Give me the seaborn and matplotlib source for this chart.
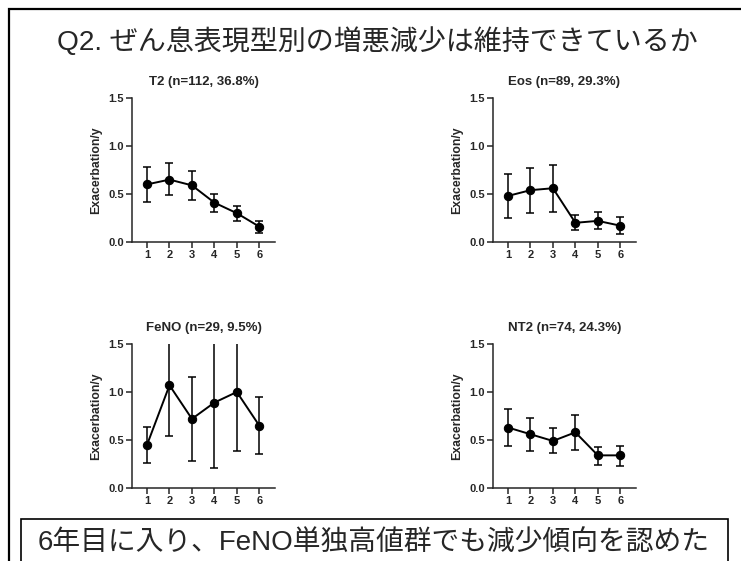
import seaborn as sns
import matplotlib.pyplot as plt
from matplotlib.patches import Rectangle
import pandas as pd

# --------------------
# Data
# --------------------
years = [1, 2, 3, 4, 5, 6]

titles = ["T2 (n=112, 36.8%)", "Eos (n=89, 29.3%)",
          "FeNO (n=29, 9.5%)", "NT2 (n=74, 24.3%)"]

t2_mean = [0.60, 0.65, 0.59, 0.41, 0.30, 0.16]
t2_low = [0.42, 0.49, 0.44, 0.31, 0.22, 0.09]
t2_high = [0.78, 0.82, 0.74, 0.50, 0.37, 0.22]

eos_mean = [0.48, 0.54, 0.56, 0.20, 0.22, 0.17]
eos_low = [0.25, 0.30, 0.31, 0.12, 0.14, 0.08]
eos_high = [0.71, 0.77, 0.80, 0.28, 0.31, 0.26]

feno_mean = [0.45, 1.07, 0.72, 0.89, 1.00, 0.65]
feno_low = [0.26, 0.54, 0.28, 0.21, 0.39, 0.35]
feno_high = [0.64, 1.60, 1.16, 1.57, 1.61, 0.95]

nt2_mean = [0.63, 0.56, 0.49, 0.58, 0.34, 0.34]
nt2_low = [0.44, 0.39, 0.36, 0.40, 0.24, 0.23]
nt2_high = [0.82, 0.73, 0.62, 0.76, 0.43, 0.44]

groups = [(t2_mean, t2_low, t2_high), (eos_mean, eos_low, eos_high),
          (feno_mean, feno_low, feno_high), (nt2_mean, nt2_low, nt2_high)]

main_title = "Q2. ぜん息表現型別の増悪減少は維持できているか"
conclusion = "6年目に入り、FeNO単独高値群でも減少傾向を認めた"

# --------------------
# Style
# --------------------
sns.set_style("ticks")
plt.rcParams["font.family"] = ["Liberation Sans", "Noto Sans CJK JP", "DejaVu Sans"]

W, H = 741, 561
fig = plt.figure(figsize=(W / 100, H / 100), dpi=100)

# axes boxes in pixels: (left, right, top, bottom)
boxes = [(132, 275, 98, 242), (493, 636, 98, 242),
         (132, 275, 344, 488), (493, 636, 344, 488)]

for (mean, low, high), title, (l, r, t, b) in zip(groups, titles, boxes):
    ax = fig.add_axes([l / W, 1 - b / H, (r - l) / W, (b - t) / H])
    df = pd.DataFrame({"Year": years, "Rate": mean})
    yerr = [[m - lo for m, lo in zip(mean, low)],
            [hi - m for m, hi in zip(mean, high)]]
    ax.errorbar(years, mean, yerr=yerr, fmt="none", ecolor="black",
                elinewidth=1.1, capsize=3, capthick=1.1)
    sns.lineplot(data=df, x="Year", y="Rate", ax=ax, color="black",
                 marker="o", markersize=6, linewidth=1.4,
                 markeredgecolor="black")
    ax.set_xlim(0.33, 6.7)
    ax.set_ylim(0, 1.5)
    ax.set_xticks(years)
    ax.set_yticks([0, 0.5, 1.0, 1.5])
    ax.set_yticklabels(["0.0", "0.5", "1.0", "1.5"])
    ax.set_xlabel("")
    ax.set_ylabel("Exacerbation/y", fontsize=8.8, fontweight="bold", labelpad=4)
    ax.set_title(title, fontsize=9.5, fontweight="bold", pad=9)
    for lab in ax.get_xticklabels() + ax.get_yticklabels():
        lab.set_fontweight("bold")
    ax.tick_params(labelsize=8, width=1.1, length=4, pad=2)
    sns.despine(ax=ax)
    for s in ["left", "bottom"]:
        ax.spines[s].set_linewidth(1.1)

fig.text(377 / W, 1 - 42 / H, main_title, ha="center", va="center",
         fontsize=20.2)

# outer frame, open on the right and bottom edges
fig.add_artist(Rectangle((9 / W, -0.05), 1.1, 1 - 9 / H + 0.05,
                         transform=fig.transFigure, fill=False,
                         edgecolor="black", linewidth=1.6))

# conclusion box
fig.add_artist(Rectangle((21 / W, -0.05), (728 - 21) / W, 1 - 519 / H + 0.05,
                         transform=fig.transFigure, fill=True,
                         facecolor="white", edgecolor="black", linewidth=1.2))
fig.text(374 / W, 1 - 543 / H, conclusion, ha="center", va="center",
         fontsize=20)

fig.savefig("out.png", dpi=100)
